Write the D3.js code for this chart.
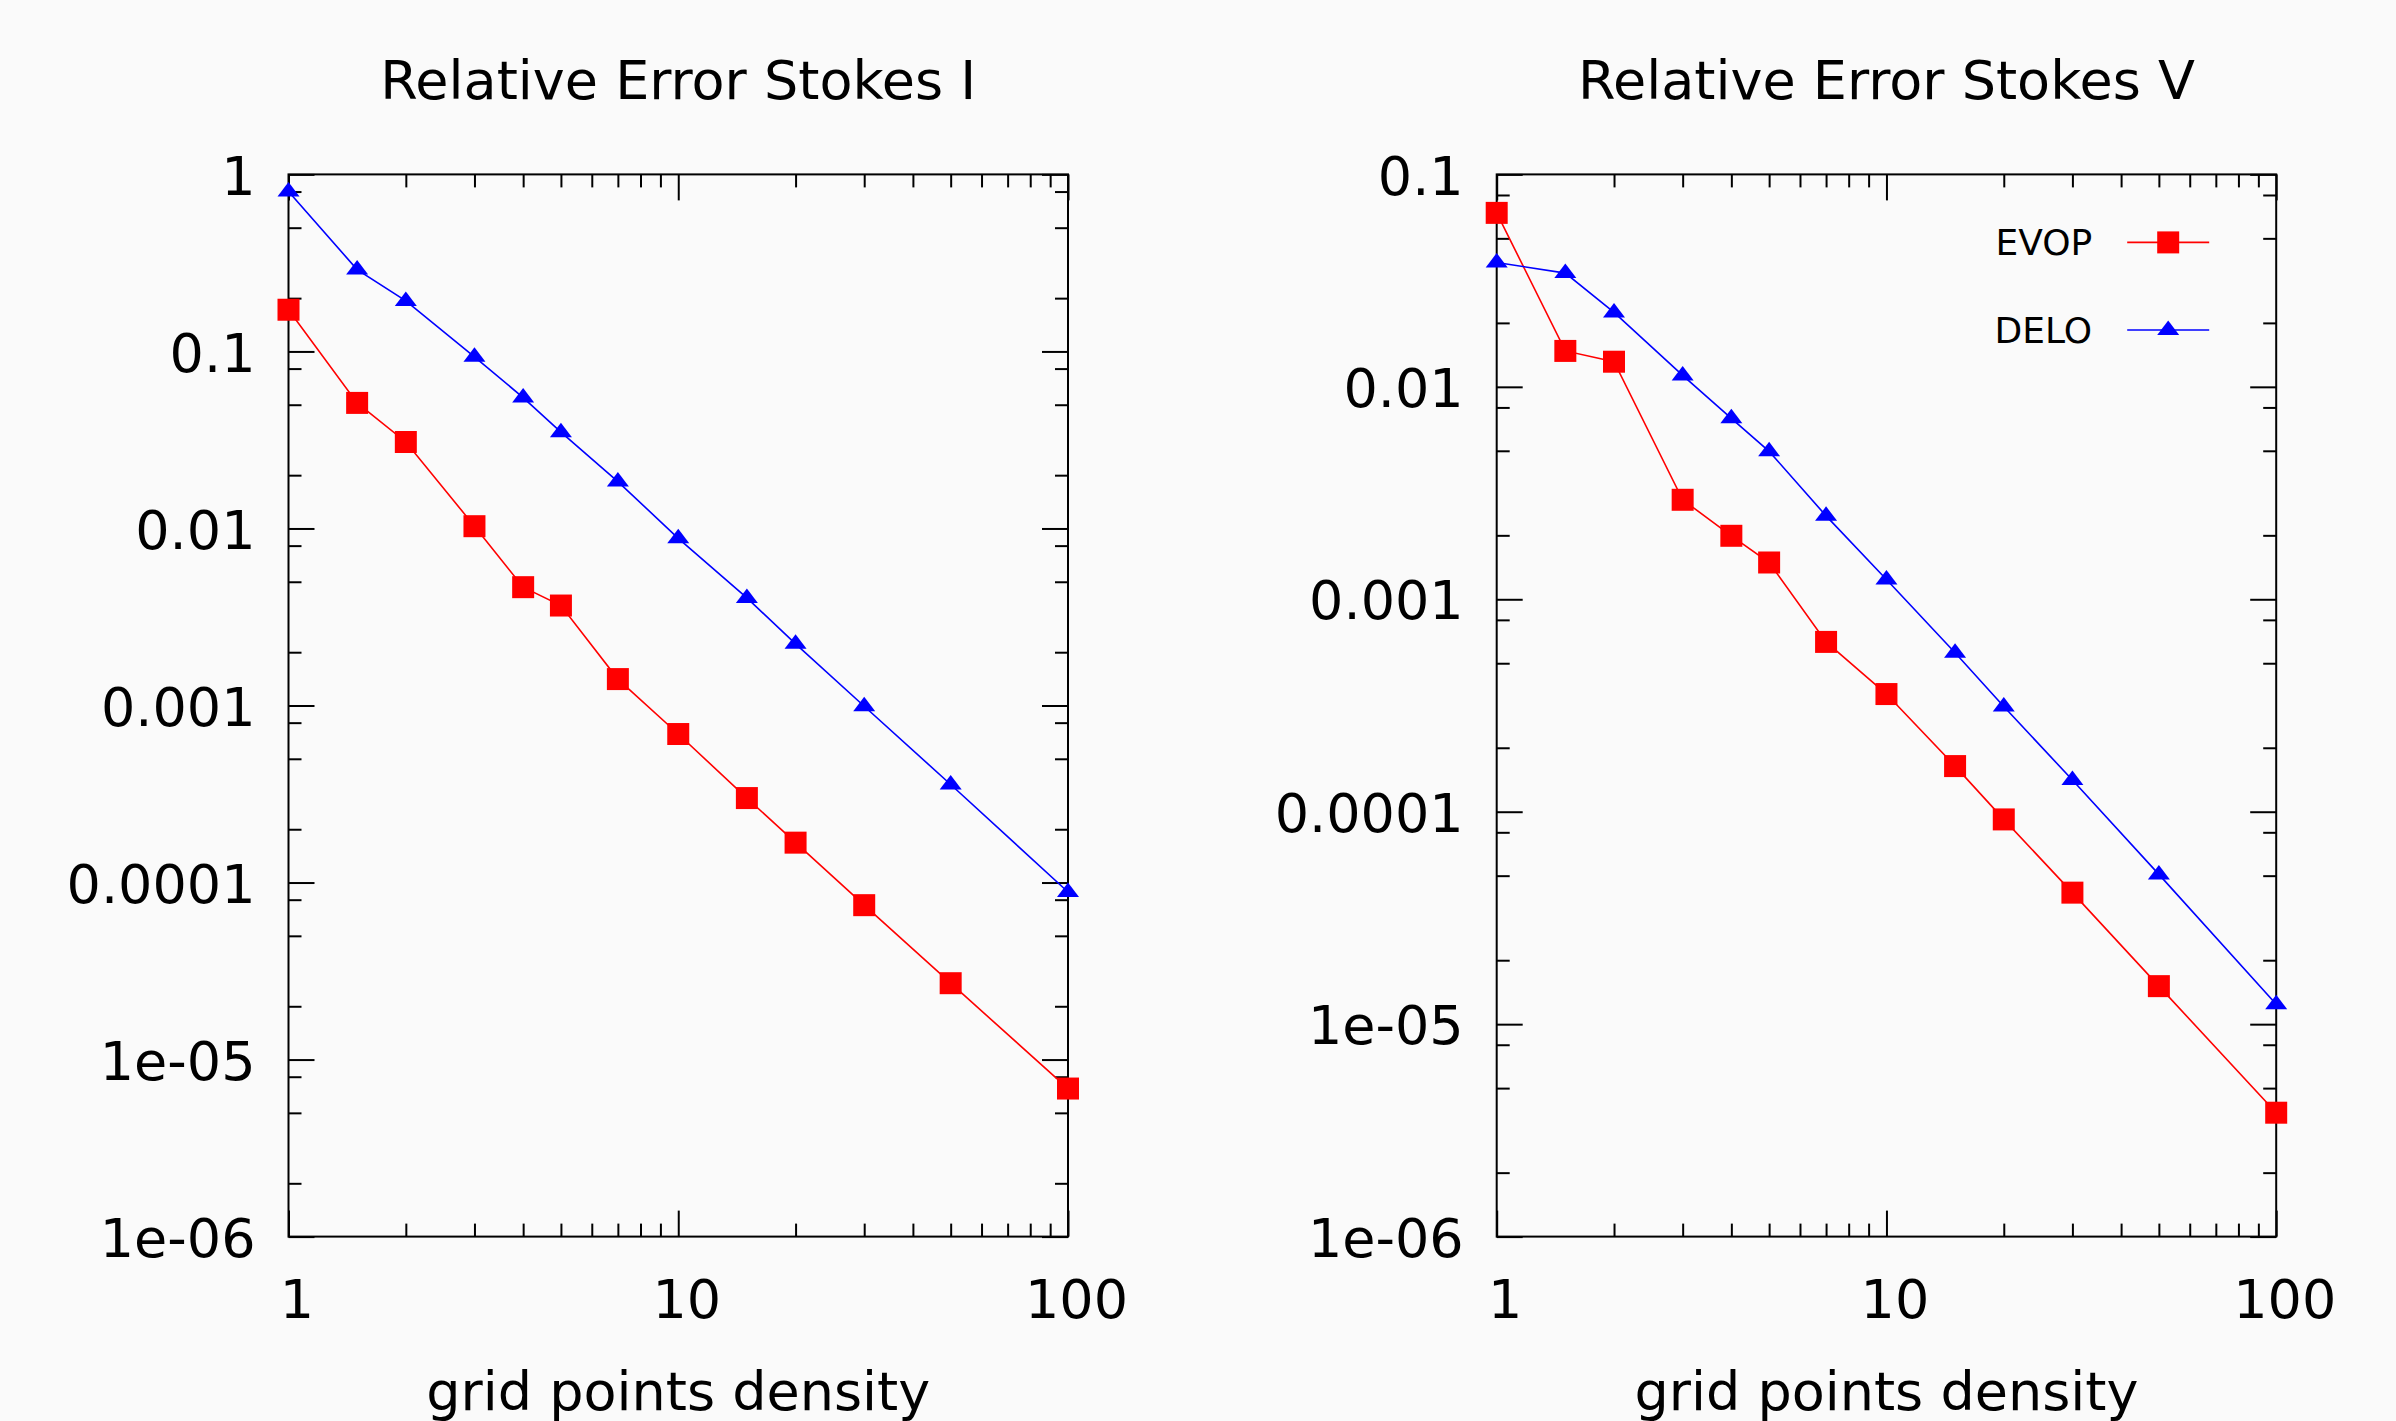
<!DOCTYPE html>
<html>
<head>
<meta charset="utf-8">
<script src="https://cdn.jsdelivr.net/npm/d3@7"></script>
<style>
  body { margin: 0; background: #fafafa; }
  svg { display: block; font-family: "DejaVu Sans", sans-serif; }
</style>
</head>
<body>
<div id="chart"></div>
<script>
// ---------- data ----------
const gridDensity = [1, 1.5, 2, 3, 4, 5, 7, 10, 15, 20, 30, 50, 100];

// relative error stokes I
const stokesI_EVOP = [0.172, 0.0512, 0.0308, 0.0103, 0.00466, 0.00367, 0.00141, 0.00069, 0.0003, 0.000168, 7.45e-5, 2.7e-5, 6.86e-6];
const stokesI_DELO = [0.80, 0.290, 0.193, 0.0933, 0.0549, 0.035, 0.0184, 0.0088, 0.00405, 0.00223, 0.00099, 0.000358, 8.84e-5];

// relative error stokes V
const stokesV_EVOP = [0.0659, 0.01476, 0.01313, 0.00294, 0.00199, 0.00149, 0.00063, 0.000358, 0.000164, 9.2e-5, 4.16e-5, 1.51e-5, 3.83e-6];
const stokesV_DELO = [0.0385, 0.0343, 0.0224, 0.01132, 0.00711, 0.00497, 0.00247, 0.00124, 0.00056, 0.000313, 0.000141, 5.07e-5, 1.24e-5];

// tick values and labels
const xTicks = [1, 10, 100];
const xTickLabels = ["1", "10", "100"];
const yTicksI = [1, 0.1, 0.01, 0.001, 0.0001, 1e-5, 1e-6];
const yTickLabelsI = ["1", "0.1", "0.01", "0.001", "0.0001", "1e-05", "1e-06"];
const yTicksV = [0.1, 0.01, 0.001, 0.0001, 1e-5, 1e-6];
const yTickLabelsV = ["0.1", "0.01", "0.001", "0.0001", "1e-05", "1e-06"];

const seriesNames = ["EVOP", "DELO"];
const seriesColors = ["#ff0000", "#0000ff"];

// ---------- layout ----------
const width = 2396, height = 1421;
const plotTop = 174.4, plotBottom = 1236.6;
const innerW = 779.5, innerH = plotBottom - plotTop;
const fontSize = 54;

const svg = d3.select("#chart")
  .append("svg")
  .attr("width", width)
  .attr("height", height);

svg.append("rect")
  .attr("width", width).attr("height", height)
  .attr("fill", "#fafafa");

// marker shapes (gnuplot-ish filled square and triangle)
const squarePath = d3.symbol(d3.symbolSquare, 22 * 22)();
const trianglePath = "M0,-9.5L11,5L-11,5Z";

const panels = [
  { title: "Relative Error Stokes I", left: 288.5, yMax: 1, yTicks: yTicksI, yLabels: yTickLabelsI,
    series: [stokesI_EVOP, stokesI_DELO], legend: false },
  { title: "Relative Error Stokes V", left: 1496.7, yMax: 0.1, yTicks: yTicksV, yLabels: yTickLabelsV,
    series: [stokesV_EVOP, stokesV_DELO], legend: true }
];

// style an axis group: black ticks, big labels, no domain line
function styleAxis(a) {
  a.attr("font-size", fontSize).attr("font-family", "DejaVu Sans, sans-serif");
  a.select(".domain").remove();
  a.selectAll("line").attr("stroke", "#000").attr("stroke-width", 2);
  a.selectAll("text").attr("fill", "#000");
}

panels.forEach(function(p) {
  const g = svg.append("g").attr("transform", `translate(${p.left},${plotTop})`);

  const x = d3.scaleLog().domain([1, 100]).range([0, innerW]);
  const y = d3.scaleLog().domain([1e-6, p.yMax]).range([innerH, 0]);

  // minor tick positions: 2..9 per decade on x, 2,5,8 per decade on y
  const xMinor = [];
  [1, 10].forEach(e => { for (let m = 2; m <= 9; m++) xMinor.push(m * e); });
  const yMinor = [];
  for (let e = -6; e < Math.round(Math.log10(p.yMax)); e++) {
    [2, 5, 8].forEach(m => yMinor.push(m * Math.pow(10, e)));
  }

  // left axis with labels
  g.append("g")
    .call(d3.axisLeft(y).tickValues(p.yTicks)
      .tickFormat((d, i) => p.yLabels[i])
      .tickSizeInner(-26).tickSizeOuter(0).tickPadding(33))
    .call(styleAxis)
    .selectAll("text").attr("dy", "0.365em");
  g.append("g")
    .call(d3.axisLeft(y).tickValues(yMinor).tickFormat("").tickSizeInner(-13).tickSizeOuter(0))
    .call(styleAxis);

  // right mirror ticks
  g.append("g")
    .attr("transform", `translate(${innerW},0)`)
    .call(d3.axisRight(y).tickValues(p.yTicks).tickFormat("").tickSizeInner(-26).tickSizeOuter(0))
    .call(styleAxis);
  g.append("g")
    .attr("transform", `translate(${innerW},0)`)
    .call(d3.axisRight(y).tickValues(yMinor).tickFormat("").tickSizeInner(-13).tickSizeOuter(0))
    .call(styleAxis);

  // bottom axis with labels
  g.append("g")
    .attr("transform", `translate(0,${innerH})`)
    .call(d3.axisBottom(x).tickValues(xTicks)
      .tickFormat((d, i) => xTickLabels[i])
      .tickSizeInner(-26).tickSizeOuter(0).tickPadding(43))
    .call(styleAxis)
    .selectAll("text").attr("dx", 8);
  g.append("g")
    .attr("transform", `translate(0,${innerH})`)
    .call(d3.axisBottom(x).tickValues(xMinor).tickFormat("").tickSizeInner(-13).tickSizeOuter(0))
    .call(styleAxis);

  // top mirror ticks
  g.append("g")
    .call(d3.axisTop(x).tickValues(xTicks).tickFormat("").tickSizeInner(-26).tickSizeOuter(0))
    .call(styleAxis);
  g.append("g")
    .call(d3.axisTop(x).tickValues(xMinor).tickFormat("").tickSizeInner(-13).tickSizeOuter(0))
    .call(styleAxis);

  // frame
  g.append("rect")
    .attr("width", innerW).attr("height", innerH)
    .attr("fill", "none").attr("stroke", "#000").attr("stroke-width", 2);

  // title and x label
  g.append("text")
    .attr("x", innerW / 2).attr("y", 99 - plotTop)
    .attr("text-anchor", "middle")
    .attr("font-size", fontSize)
    .text(p.title);
  g.append("text")
    .attr("x", innerW / 2).attr("y", 1410 - plotTop)
    .attr("text-anchor", "middle")
    .attr("font-size", fontSize)
    .text("grid points density");

  // data lines and markers
  p.series.forEach(function(vals, si) {
    const pts = gridDensity.map((d, i) => ({ x: d, v: vals[i] }));
    const line = d3.line().x(d => x(d.x)).y(d => y(d.v));
    g.append("path")
      .datum(pts)
      .attr("fill", "none")
      .attr("stroke", seriesColors[si])
      .attr("stroke-width", 1.6)
      .attr("d", line);
    g.selectAll(".pt" + si)
      .data(pts)
      .enter()
      .append("path")
      .attr("class", "pt" + si)
      .attr("transform", d => `translate(${x(d.x)},${y(d.v)})`)
      .attr("d", si === 0 ? squarePath : trianglePath)
      .attr("fill", seriesColors[si]);
  });

  // legend (only on the right panel)
  if (p.legend) {
    const legend = g.append("g").attr("transform", `translate(${innerW},0)`);
    seriesNames.forEach(function(name, i) {
      const ly = 68 + i * 87.6;
      legend.append("text")
        .attr("x", -184).attr("y", ly)
        .attr("dy", "0.35em")
        .attr("text-anchor", "end")
        .attr("font-size", 36)
        .text(name);
      legend.append("line")
        .attr("x1", -149).attr("x2", -67)
        .attr("y1", ly).attr("y2", ly)
        .attr("stroke", seriesColors[i]).attr("stroke-width", 1.6);
      legend.append("path")
        .attr("transform", `translate(-108,${ly})`)
        .attr("d", i === 0 ? squarePath : trianglePath)
        .attr("fill", seriesColors[i]);
    });
  }
});
</script>
</body>
</html>
